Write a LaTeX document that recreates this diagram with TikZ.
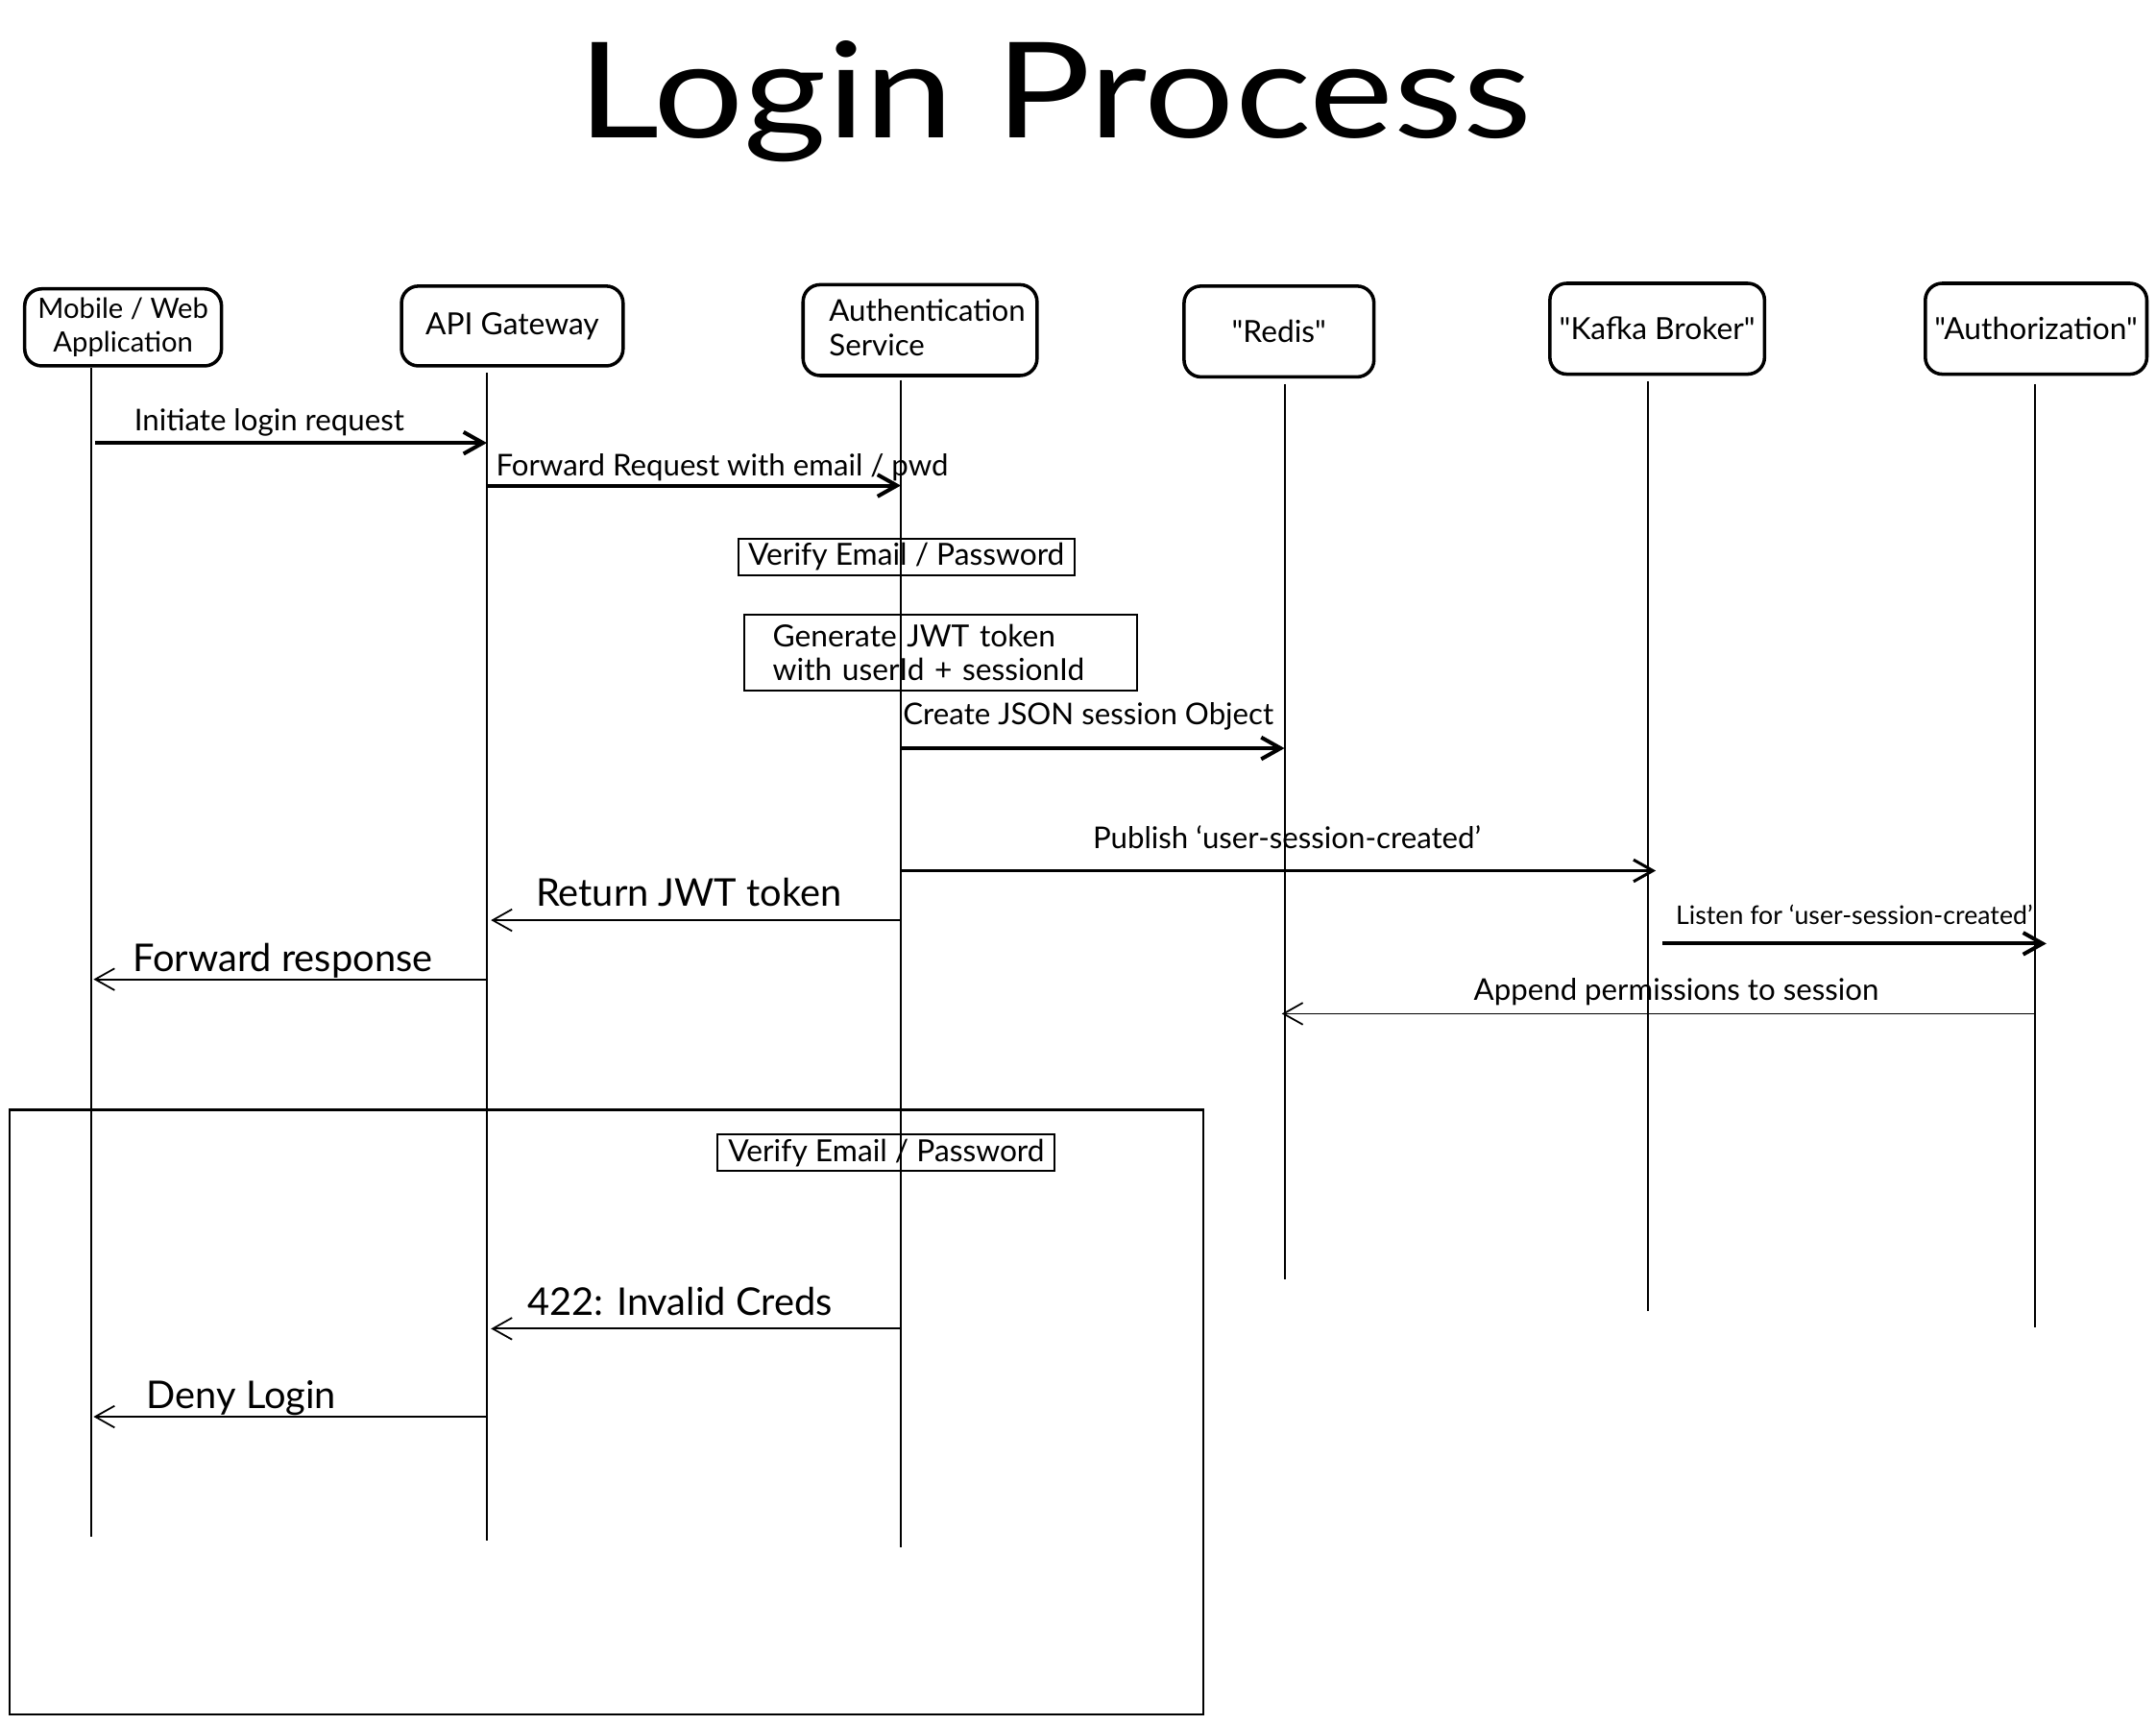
\documentclass[tikz,border=0pt]{standalone}
\usepackage{fontspec}
\usepackage{graphicx}
\setmainfont{Lato}[Ligatures=TeXOff]
\usetikzlibrary{arrows.meta}
\begin{document}
\begin{tikzpicture}[x=0.01cm,y=-0.01cm,
  actor/.style={draw, line width=0.7pt, rounded corners=3.5pt, align=center, inner sep=0pt,
                font=\fontsize{6.3}{7.1}\selectfont},
  life/.style={line width=0.4pt},
  msg/.style={-{Straight Barb[length=4pt,width=4.5pt]}, line width=0.8pt},
  reply/.style={-{Straight Barb[length=4pt,width=4.5pt]}, line width=0.35pt},
  lbl/.style={anchor=base west, inner sep=0pt, font=\fontsize{6.2}{7.4}\selectfont},
  biglbl/.style={anchor=base west, inner sep=0pt, font=\fontsize{7.9}{9}\selectfont},
  smalllbl/.style={anchor=base west, inner sep=0pt, font=\fontsize{5.3}{6}\selectfont},
  note/.style={draw, line width=0.4pt, inner sep=0pt, font=\fontsize{6.3}{7}\selectfont},
  frame/.style={draw, line width=0.4pt, inner sep=0pt}
]
\useasboundingbox (0,0) rectangle (1567.7,1253.5);

% title
\node[anchor=base, inner sep=0pt] (title) at (767,100)
  {\fontsize{27.5}{30}\selectfont\scalebox{1.2}[1]{Login Process}};

% actors
\node[actor, minimum width=1.43cm, minimum height=0.56cm, font=\fontsize{5.8}{7.1}\selectfont] (mob) at (89.5,238) {Mobile / Web\\Application};
\node[actor, minimum width=1.61cm, minimum height=0.58cm] (api) at (372.5,237) {API Gateway};
\node[actor, minimum height=0.66cm, align=left, text width=1.32cm, inner xsep=0.19cm, font=\fontsize{6.2}{7.1}\selectfont] (auth) at (669,240) {Authentication\\Service\vphantom{y}};
\node[actor, minimum width=1.38cm, minimum height=0.66cm] (redis) at (930,241) {"Redis"};
\node[actor, minimum width=1.56cm, minimum height=0.66cm] (kafka) at (1205,239) {"Kafka Broker"};
\node[actor, minimum width=1.61cm, minimum height=0.66cm] (authz) at (1480.5,239) {"Authorization"};

% lifeline ends
\coordinate (l1) at (66,1117);
\coordinate (l2) at (354,1120);
\coordinate (l3) at (655,1125);
\coordinate (l4) at (934,930);
\coordinate (l5) at (1198,953);
\coordinate (l6) at (1480,965);

\draw[life] (mob.south -| l1) -- (l1);
\draw[life] (api.south -| l2) ++(0,4) -- (l2);
\draw[life] (auth.south -| l3) ++(0,2) -- (l3);
\draw[life] (redis.south -| l4) ++(0,4) -- (l4);
\draw[life] (kafka.south -| l5) ++(0,4) -- (l5);
\draw[life] (authz.south -| l6) ++(0,6) -- (l6);

% notes and frame
\node[note, minimum width=2.44cm, minimum height=0.26cm] (v1) at (659,405) {Verify Email / Password};
\node[note, align=left, text width=2.44cm, inner xsep=0.21cm, minimum height=0.55cm] (gen) at (684,474.5) {Generate JWT token\\with userId + sessionId};
\node[frame, minimum width=8.68cm, minimum height=4.39cm] (alt) at (441,1026.5) {};
\node[note, minimum width=2.45cm, minimum height=0.26cm] (v2) at (644.5,838) {Verify Email / Password};

% messages
\draw[msg] ([xshift=0.03cm]l1 |- 0,322) -- (l2 |- 0,322);
\node[lbl] (t1) at (97,313) {Initiate login request};

\draw[msg] (l2 |- 0,353) -- (l3 |- 0,353);
\node[lbl] (t2) at (360,346) {Forward Request with email / pwd};

\draw[msg] (l3 |- 0,544) -- (l4 |- 0,544);
\node[lbl] (t3) at (656,527) {Create JSON session Object};

\draw[msg, line width=0.6pt] (l3 |- 0,633) -- ([xshift=0.06cm]l5 |- 0,633);
\node[lbl] (t4) at (794,617) {Publish ‘user-session-created’};

\draw[reply] (l3 |- 0,669) -- ([xshift=0.03cm]l2 |- 0,669);
\node[biglbl] (t5) at (389,659) {Return JWT token};

\draw[msg] ([xshift=0.11cm]l5 |- 0,686) -- ([xshift=0.08cm]l6 |- 0,686);
\node[smalllbl] (t6) at (1218,672) {Listen for ‘user-session-created’};

\draw[reply] (l2 |- 0,712) -- ([xshift=0.02cm]l1 |- 0,712);
\node[biglbl] (t7) at (96,706) {Forward response};

\draw[reply] (l6 |- 0,737) -- ([xshift=-0.02cm]l4 |- 0,737);
\node[lbl] (t8) at (1071,727) {Append permissions to session};

\draw[reply] (l3 |- 0,966) -- ([xshift=0.03cm]l2 |- 0,966);
\node[biglbl] (t9) at (383,956) {422: Invalid Creds};

\draw[reply] (l2 |- 0,1030) -- ([xshift=0.02cm]l1 |- 0,1030);
\node[biglbl] (t10) at (106,1024) {Deny Login};
\end{tikzpicture}
\end{document}
